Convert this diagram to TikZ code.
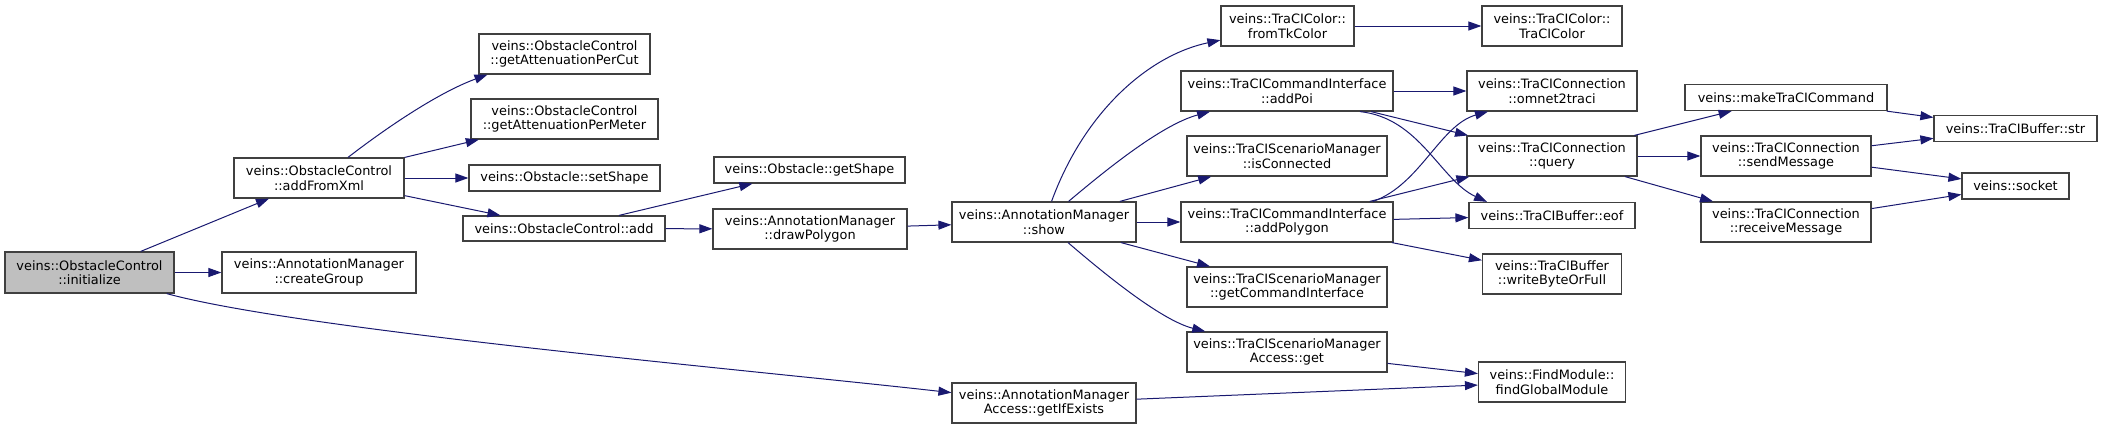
\documentclass[tikz,border=0pt]{standalone}
\usepackage{fontspec}
\usepackage{tikz}
\usetikzlibrary{arrows.meta}
\newfontfamily\graphfont{DejaVu Sans}
\definecolor{callnavy}{RGB}{25,25,112}
\definecolor{boxedge}{RGB}{64,64,64}
\definecolor{rootgray}{RGB}{191,191,191}

\tikzset{
  fn/.style={draw=boxedge,line width=1.2pt,fill=white,rectangle,inner sep=0pt,align=center,
    font=\graphfont\fontsize{12.9}{14.5}\selectfont},
  root/.style={fn,fill=rootgray},
  call/.style={draw=callnavy,line width=1pt,-{Triangle[length=13pt,width=9pt]}}
}

\begin{document}
\begin{tikzpicture}[x=1pt,y=-1pt]
\useasboundingbox (0,0) rectangle (2103,429);
% column 1
\node[root,minimum width=169pt,minimum height=41pt] (initialize) at (89.5,272.5) {veins::ObstacleControl\\::initialize};
% column 2
\node[fn,minimum width=170pt,minimum height=40pt] (addFromXml) at (319,178) {veins::ObstacleControl\\::addFromXml};
\node[fn,minimum width=194pt,minimum height=41pt] (createGroup) at (319,272.5) {veins::AnnotationManager\\::createGroup};
% column 3
\node[fn,minimum width=171pt,minimum height=40pt] (attPerCut) at (564.5,54) {veins::ObstacleControl\\::getAttenuationPerCut};
\node[fn,minimum width=187pt,minimum height=40pt] (attPerMeter) at (564.5,119) {veins::ObstacleControl\\::getAttenuationPerMeter};
\node[fn,minimum width=191pt,minimum height=26pt] (setShape) at (564.5,178) {veins::Obstacle::setShape};
\node[fn,minimum width=202pt,minimum height=25pt] (add) at (564,228.5) {veins::ObstacleControl::add};
% column 4
\node[fn,minimum width=191pt,minimum height=26pt] (getShape) at (809.5,170) {veins::Obstacle::getShape};
\node[fn,minimum width=194pt,minimum height=40pt] (drawPolygon) at (810,229) {veins::AnnotationManager\\::drawPolygon};
% column 5
\node[fn,minimum width=184pt,minimum height=40pt] (show) at (1044,222) {veins::AnnotationManager\\::show};
\node[fn,minimum width=184pt,minimum height=40pt] (getIfExists) at (1044,403) {veins::AnnotationManager\\Access::getIfExists};
% column 6
\node[fn,minimum width=133pt,minimum height=40pt] (fromTkColor) at (1287.5,26) {veins::TraCIColor::\\fromTkColor};
\node[fn,minimum width=212pt,minimum height=40pt] (addPoi) at (1287,91) {veins::TraCICommandInterface\\::addPoi};
\node[fn,minimum width=200pt,minimum height=40pt] (isConnected) at (1287,156) {veins::TraCIScenarioManager\\::isConnected};
\node[fn,minimum width=212pt,minimum height=40pt] (addPolygon) at (1287,222) {veins::TraCICommandInterface\\::addPolygon};
\node[fn,minimum width=200pt,minimum height=40pt] (getCmdIface) at (1287,287) {veins::TraCIScenarioManager\\::getCommandInterface};
\node[fn,minimum width=200pt,minimum height=40pt] (managerGet) at (1287,352) {veins::TraCIScenarioManager\\Access::get};
% column 7
\node[fn,minimum width=140pt,minimum height=40pt] (traciColor) at (1552,26) {veins::TraCIColor::\\TraCIColor};
\node[fn,minimum width=170pt,minimum height=40pt] (omnet2traci) at (1552,91) {veins::TraCIConnection\\::omnet2traci};
\node[fn,minimum width=170pt,minimum height=40pt] (query) at (1552,156) {veins::TraCIConnection\\::query};
\node[fn,minimum width=166pt,minimum height=26pt] (eof) at (1552,215.5) {veins::TraCIBuffer::eof};
\node[fn,minimum width=139pt,minimum height=40pt] (writeByte) at (1552,274) {veins::TraCIBuffer\\::writeByteOrFull};
\node[fn,minimum width=147pt,minimum height=40pt] (findModule) at (1552,382) {veins::FindModule::\\findGlobalModule};
% column 8
\node[fn,minimum width=202pt,minimum height=26pt] (makeCommand) at (1786,97.5) {veins::makeTraCICommand};
\node[fn,minimum width=170pt,minimum height=40pt] (sendMessage) at (1786,156) {veins::TraCIConnection\\::sendMessage};
\node[fn,minimum width=170pt,minimum height=40pt] (receiveMessage) at (1786,222) {veins::TraCIConnection\\::receiveMessage};
% column 9
\node[fn,minimum width=163pt,minimum height=26pt] (bufferStr) at (2015.5,128.5) {veins::TraCIBuffer::str};
\node[fn,minimum width=107pt,minimum height=26pt] (socket) at (2015.5,186) {veins::socket};

% calls
\draw[call] (initialize) -- (addFromXml);
\draw[call] (initialize) -- (createGroup);
\draw[call] (initialize) .. controls (300,330) and (750,370) .. (getIfExists);
\draw[call] ([xshift=29pt]addFromXml.north) .. controls (390,125) and (440,92) .. ([xshift=-77pt]attPerCut.south);
\draw[call] (addFromXml) -- (attPerMeter);
\draw[call] (addFromXml) -- (setShape);
\draw[call] (addFromXml) -- (add);
\draw[call] (add) -- (getShape);
\draw[call] (add) -- (drawPolygon);
\draw[call] (drawPolygon) -- (show);
\draw[call] (show) .. controls (1085,110) and (1150,55) .. (fromTkColor);
\draw[call] (show) .. controls (1100,175) and (1160,125) .. (addPoi);
\draw[call] (show) -- (isConnected);
\draw[call] (show) -- (addPolygon);
\draw[call] (show) -- (getCmdIface);
\draw[call] (show) .. controls (1100,270) and (1160,320) .. (managerGet);
\draw[call] (getIfExists) -- (findModule);
\draw[call] (managerGet) -- (findModule);
\draw[call] (fromTkColor) -- (traciColor);
\draw[call] (addPoi) -- (omnet2traci);
\draw[call] (addPoi) -- (query);
\draw[call] ([xshift=73pt]addPoi.south) .. controls (1420,118) and (1440,180) .. ([xshift=-65pt]eof.north);
\draw[call] ([xshift=86pt]addPolygon.north) .. controls (1420,185) and (1440,125) .. ([xshift=-64pt]omnet2traci.south);
\draw[call] (addPolygon) -- (query);
\draw[call] (addPolygon) -- (eof);
\draw[call] (addPolygon) -- (writeByte);
\draw[call] (query) -- (makeCommand);
\draw[call] (query) -- (sendMessage);
\draw[call] (query) -- (receiveMessage);
\draw[call] (makeCommand) -- (bufferStr);
\draw[call] (sendMessage) -- (bufferStr);
\draw[call] (sendMessage) -- (socket);
\draw[call] (receiveMessage) -- (socket);
\end{tikzpicture}
\end{document}
